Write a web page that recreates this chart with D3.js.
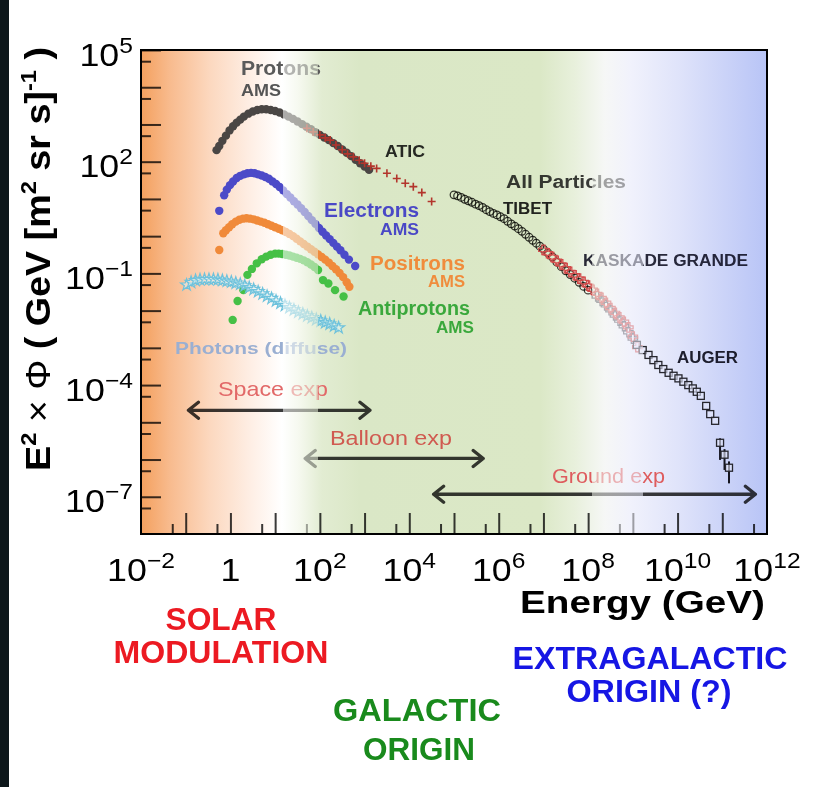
<!DOCTYPE html>
<html><head><meta charset="utf-8">
<script src="https://cdn.jsdelivr.net/npm/d3@7"></script>
<style>
html,body{margin:0;padding:0;background:#fff;}
svg{display:block;}
text{font-family:"Liberation Sans", Arial, Helvetica, sans-serif;}
</style></head><body>
<svg id="c" width="816" height="787"></svg>
<script>
// ---------- data (log10 of energy in GeV, log10 of E^2*flux) ----------
const protonsLogE = [-0.31,-0.25,-0.18,-0.10,-0.02,0.06,0.14,0.22,0.30,0.40,0.50,0.60,0.70,0.80,0.90,1.00,1.10,1.20,1.30,1.40,1.50,1.60,1.70,1.80,1.90,2.00,2.10,2.20,2.30,2.40,2.50,2.60,2.70,2.80,2.90,3.00,3.10];
const protonsLogFlux = [2.31,2.42,2.56,2.70,2.84,2.95,3.05,3.13,3.21,3.29,3.35,3.39,3.41,3.41,3.39,3.36,3.32,3.27,3.21,3.15,3.08,3.01,2.94,2.87,2.79,2.72,2.65,2.58,2.50,2.42,2.33,2.24,2.15,2.05,1.96,1.87,1.78];

const electronsLogE = [-0.25,-0.14,-0.08,-0.01,0.06,0.14,0.22,0.30,0.38,0.46,0.54,0.62,0.70,0.78,0.86,0.94,1.02,1.10,1.18,1.26,1.34,1.42,1.50,1.58,1.66,1.74,1.82,1.90,1.98,2.06,2.14,2.22,2.30,2.38,2.46,2.55,2.65,2.79];
const electronsLogFlux = [0.68,1.10,1.25,1.37,1.47,1.56,1.62,1.66,1.69,1.70,1.69,1.66,1.63,1.59,1.54,1.47,1.40,1.32,1.23,1.13,1.04,0.94,0.85,0.75,0.65,0.54,0.43,0.33,0.22,0.12,0.02,-0.08,-0.18,-0.28,-0.38,-0.50,-0.63,-0.80];

const positronsLogE = [-0.25,-0.16,-0.10,-0.03,0.04,0.12,0.20,0.28,0.36,0.44,0.52,0.60,0.68,0.76,0.84,0.92,1.00,1.08,1.16,1.24,1.32,1.40,1.48,1.56,1.64,1.72,1.80,1.88,1.96,2.04,2.12,2.20,2.28,2.36,2.44,2.52,2.60,2.66];
const positronsLogFlux = [-0.37,0.08,0.16,0.24,0.32,0.39,0.44,0.47,0.48,0.47,0.45,0.42,0.39,0.36,0.32,0.28,0.24,0.20,0.16,0.11,0.06,0.00,-0.07,-0.14,-0.21,-0.28,-0.35,-0.42,-0.49,-0.56,-0.63,-0.71,-0.80,-0.89,-0.99,-1.10,-1.24,-1.36];

const antiprotonsLogE = [0.05,0.16,0.29,0.38,0.48,0.59,0.70,0.80,0.90,1.00,1.08,1.16,1.24,1.32,1.40,1.48,1.56,1.64,1.72,1.80,1.88,1.96,2.07,2.19,2.34,2.53];
const antiprotonsLogFlux = [-2.25,-1.74,-1.45,-1.04,-0.88,-0.73,-0.62,-0.55,-0.50,-0.47,-0.47,-0.48,-0.50,-0.52,-0.55,-0.58,-0.61,-0.65,-0.70,-0.76,-0.83,-0.91,-1.18,-1.27,-1.45,-1.62];

const photonsLogE = [-0.98,-0.88,-0.78,-0.68,-0.58,-0.48,-0.38,-0.28,-0.18,-0.08,0.02,0.12,0.22,0.32,0.42,0.52,0.62,0.72,0.82,0.92,1.02,1.12,1.22,1.32,1.42,1.52,1.62,1.72,1.82,1.92,2.02,2.12,2.22,2.32,2.42];
const photonsLogFlux = [-1.31,-1.24,-1.19,-1.17,-1.16,-1.16,-1.16,-1.17,-1.19,-1.21,-1.23,-1.26,-1.29,-1.33,-1.38,-1.43,-1.49,-1.55,-1.61,-1.67,-1.74,-1.80,-1.86,-1.92,-1.98,-2.04,-2.09,-2.14,-2.19,-2.24,-2.28,-2.32,-2.36,-2.41,-2.46];

const aticLogE = [1.71,1.85,2.00,2.12,2.23,2.36,2.50,2.62,2.75,2.88,3.00,3.14,3.27,3.50,3.72,3.91,4.09,4.28,4.50];
const aticLogFlux = [2.90,2.80,2.72,2.64,2.58,2.45,2.32,2.21,2.13,2.04,1.96,1.88,1.82,1.69,1.55,1.42,1.33,1.17,0.93];

const tibetLogE = [5.00,5.08,5.16,5.24,5.32,5.40,5.48,5.56,5.64,5.72,5.80,5.88,5.96,6.04,6.12,6.20,6.28,6.36,6.44,6.52,6.60,6.68,6.76,6.84,6.92,7.00,7.10,7.20,7.30,7.40,7.50,7.60,7.70,7.80,7.90,8.00];
const tibetLogFlux = [1.11,1.08,1.04,0.99,0.95,0.91,0.86,0.82,0.77,0.71,0.66,0.61,0.57,0.52,0.47,0.40,0.33,0.27,0.20,0.13,0.05,-0.03,-0.11,-0.19,-0.27,-0.35,-0.45,-0.56,-0.70,-0.82,-0.93,-1.03,-1.13,-1.24,-1.35,-1.45];

const kaskadeLogE = [7.0,7.1,7.2,7.3,7.4,7.5,7.6,7.7,7.8,7.9,8.0,8.1,8.2,8.3,8.4,8.5,8.6,8.7,8.8,8.9,9.0,9.1];
const kaskadeLogFlux = [-0.37,-0.46,-0.56,-0.66,-0.76,-0.86,-0.96,-1.05,-1.14,-1.23,-1.33,-1.44,-1.55,-1.66,-1.79,-1.93,-2.06,-2.18,-2.30,-2.45,-2.70,-2.98];

const kaskadeGrandeLogE = [8.2,8.3,8.4,8.5,8.6,8.7,8.8,8.9,9.0];
const kaskadeGrandeLogFlux = [-1.62,-1.74,-1.86,-1.99,-2.13,-2.27,-2.42,-2.58,-2.75];

const augerLogE = [9.09,9.22,9.35,9.46,9.57,9.68,9.80,9.91,10.02,10.13,10.24,10.34,10.43,10.52,10.64,10.73,10.84,10.95,11.05,11.15];
const augerLogFlux = [-2.92,-3.06,-3.19,-3.33,-3.46,-3.57,-3.67,-3.75,-3.82,-3.91,-4.00,-4.09,-4.18,-4.29,-4.56,-4.78,-4.96,-5.55,-5.87,-6.22];
const augerBarLogE = [10.95,11.05,11.15];
const augerBarLogHigh = [-5.43,-5.72,-6.05];
const augerBarLogLow = [-6.01,-6.28,-6.64];

// experiment ranges: [Emin, Emax] GeV, flux level of the arrow
const spaceExpRange = [0.115, 1320], spaceExpLevel = 2.1e-5;
const balloonExpRange = [47, 4.5e5], balloonExpLevel = 1.07e-6;
const groundExpRange = [3.5e4, 5.5e11], groundExpLevel = 1.17e-7;

// ticks
const xTickValues = [1e-2, 1, 1e2, 1e4, 1e6, 1e8, 1e10, 1e12];
const xTickBase = ["10", "1", "10", "10", "10", "10", "10", "10"];
const xTickSup = ["\u22122", "", "2", "4", "6", "8", "10", "12"];
const yTickValues = [1e5, 1e2, 1e-1, 1e-4, 1e-7];
const yTickBase = ["10", "10", "10", "10", "10"];
const yTickSup = ["5", "2", "\u22121", "\u22124", "\u22127"];

// ---------- drawing ----------
const svg = d3.select("#c");
const xS = d3.scaleLog().domain([1e-2, 1e12]).range([141, 767]);
const yS = d3.scaleLog().domain([1e-8, 1e5]).range([534, 50]);
const P = {l: 141, r: 767, t: 50, b: 534};

const pts = (le, lf) => le.map((v, i) => ({e: Math.pow(10, v), f: Math.pow(10, lf[i])}));

// page
svg.append("rect").attr("width", 816).attr("height", 787).attr("fill", "#fff");
svg.append("rect").attr("width", 9).attr("height", 787).attr("fill", "#0d171b");

// background gradient
const defs = svg.append("defs");
const grad = defs.append("linearGradient").attr("id", "bg")
  .attr("gradientUnits", "userSpaceOnUse").attr("x1", P.l).attr("x2", P.r).attr("y1", 0).attr("y2", 0);
const stops = [[141,"#f4a05e"],[170,"#f8bb8e"],[210,"#fcd8bf"],[250,"#feeee4"],[282,"#ffffff"],[298,"#f6f9f0"],[322,"#e2ecd2"],[360,"#dae7c6"],[540,"#dbe8c6"],[575,"#e8f0dc"],[605,"#f6f7f6"],[630,"#f1f2fc"],[680,"#dfe3fa"],[767,"#b8c4f6"]];
stops.forEach(s => grad.append("stop").attr("offset", (s[0]-P.l)/(P.r-P.l)).attr("stop-color", s[1]));
svg.append("rect").attr("x", P.l).attr("y", P.t).attr("width", P.r-P.l).attr("height", P.b-P.t).attr("fill", "url(#bg)");

// arrows
function arrow(range, level) {
  const x1 = xS(range[0]), x2 = xS(range[1]), yy = yS(level), h = 10, w = 8;
  const d = `M${x1+h},${yy-w}L${x1},${yy}L${x1+h},${yy+w}M${x1},${yy}L${x2},${yy}M${x2-h},${yy-w}L${x2},${yy}L${x2-h},${yy+w}`;
  svg.append("path").attr("d", d).attr("fill", "none").attr("stroke", "#3a3a3a")
    .attr("stroke-width", 3.3).attr("stroke-linecap", "round").attr("stroke-linejoin", "round")
    .style("mix-blend-mode", "multiply");
}
arrow(spaceExpRange, spaceExpLevel);
arrow(balloonExpRange, balloonExpLevel);
arrow(groundExpRange, groundExpLevel);

function txt(px, py, s, o) {
  const t = svg.append("text").attr("x", px).attr("y", py).text(s)
    .attr("font-size", o.size).attr("fill", o.color)
    .attr("font-weight", o.weight || "bold")
    .attr("text-anchor", o.anchor || "start");
  if (o.len) t.attr("textLength", o.len).attr("lengthAdjust", "spacingAndGlyphs");
  if (o.blend) t.style("mix-blend-mode", "multiply");
  return t;
}
txt(218, 396, "Space exp", {size: 21, color: "#e26868", weight: "normal", len: 110});
txt(330, 445, "Balloon exp", {size: 21, color: "#d05a50", weight: "normal", len: 122});
txt(552, 483, "Ground exp", {size: 21, color: "#de5c5e", weight: "normal", len: 113});

// data marks
const dots = (data, color, r) => svg.append("g").selectAll("circle").data(data).join("circle")
  .attr("cx", d => xS(d.e)).attr("cy", d => yS(d.f)).attr("r", r).attr("fill", color);

dots(pts(protonsLogE, protonsLogFlux), "#4a4644", 4.2);
dots(pts(electronsLogE, electronsLogFlux), "#4c4ac8", 4.2);
dots(pts(positronsLogE, positronsLogFlux), "#f08a3a", 4.2);
dots(pts(antiprotonsLogE, antiprotonsLogFlux), "#46c046", 4.2);

const star = d3.symbol().type(d3.symbolStar).size(44);
svg.append("g").selectAll("path").data(pts(photonsLogE, photonsLogFlux)).join("path")
  .attr("d", star).attr("transform", d => `translate(${xS(d.e)},${yS(d.f)})`)
  .attr("fill", "#dff3f8").attr("fill-opacity", 0.5).attr("stroke", "#6ec2dc").attr("stroke-width", 1.2);

// ATIC "+"
svg.append("g").selectAll("path").data(pts(aticLogE, aticLogFlux)).join("path")
  .attr("d", d => { const cx = xS(d.e), cy = yS(d.f); return `M${cx-4},${cy}H${cx+4}M${cx},${cy-4}V${cy+4}`; })
  .attr("stroke", "#b3352c").attr("stroke-width", 1.6).attr("fill", "none");

// Tibet circles
svg.append("g").selectAll("circle").data(pts(tibetLogE, tibetLogFlux)).join("circle")
  .attr("cx", d => xS(d.e)).attr("cy", d => yS(d.f)).attr("r", 3.8)
  .attr("fill", "none").attr("stroke", "#3a3a36").attr("stroke-width", 1.25).style("mix-blend-mode", "multiply");

const cross = d3.symbol().type(d3.symbolCross).size(50);
svg.append("g").selectAll("path").data(pts(kaskadeGrandeLogE, kaskadeGrandeLogFlux)).join("path")
  .attr("d", cross).attr("transform", d => `translate(${xS(d.e)},${yS(d.f)})`)
  .attr("fill", "none").attr("stroke", "#555560").attr("stroke-width", 1.2);
svg.append("g").selectAll("path").data(pts(kaskadeLogE, kaskadeLogFlux)).join("path")
  .attr("d", cross).attr("transform", d => `translate(${xS(d.e)},${yS(d.f)})`)
  .attr("fill", "none").attr("stroke", "#d24a4a").attr("stroke-width", 1.2);

// Auger squares + error bars
const bars = augerBarLogE.map((v, i) => ({e: Math.pow(10, v), hi: Math.pow(10, augerBarLogHigh[i]), lo: Math.pow(10, augerBarLogLow[i])}));
svg.append("g").selectAll("line").data(bars).join("line")
  .attr("x1", d => xS(d.e)).attr("x2", d => xS(d.e)).attr("y1", d => yS(d.hi)).attr("y2", d => yS(d.lo))
  .attr("stroke", "#151520").attr("stroke-width", 2);
svg.append("g").selectAll("rect").data(pts(augerLogE, augerLogFlux)).join("rect")
  .attr("x", d => xS(d.e) - 3.5).attr("y", d => yS(d.f) - 3.5).attr("width", 7).attr("height", 7)
  .attr("fill", "#e4e8fb").attr("fill-opacity", 0.6).attr("stroke", "#26262e").attr("stroke-width", 1.3);

// data labels
txt(241, 75, "Protons", {size: 20, color: "#5a5a5a", len: 80});
txt(241, 96, "AMS", {size: 16, color: "#555", len: 40});
txt(385, 157, "ATIC", {size: 16, color: "#2c2c2c", len: 40, blend: true});
txt(324, 217, "Electrons", {size: 20, color: "#4a48c6", len: 95});
txt(380, 235, "AMS", {size: 16, color: "#4a48c6", len: 39});
txt(370, 270, "Positrons", {size: 20, color: "#f08c3c", len: 95});
txt(428, 287, "AMS", {size: 16, color: "#f08c3c", len: 37});
txt(358, 315, "Antiprotons", {size: 20, color: "#3aa83c", len: 112});
txt(436, 333, "AMS", {size: 16, color: "#3aa83c", len: 38});
txt(175, 354, "Photons (diffuse)", {size: 16, color: "#9aafd2", len: 172});
txt(506, 188, "All Particles", {size: 18, color: "#3c3c3c", len: 120, blend: true});
txt(503, 214, "TIBET", {size: 16, color: "#262626", len: 49, blend: true});
txt(583, 266, "KASKADE GRANDE", {size: 16, color: "#2c2c3c", len: 165, blend: true});
txt(677, 363, "AUGER", {size: 16, color: "#22222e", len: 61, blend: true});

// ticks via axes
function styleTicks(g) {
  g.select(".domain").remove();
  g.selectAll("line").attr("stroke", "#3a3a3a").attr("stroke-width", 2).style("mix-blend-mode", "multiply");
  g.selectAll("text").remove();
}
const xMajor = d3.range(-1, 12).map(n => Math.pow(10, n));
const xMinor = d3.range(-1, 12).map(n => 5 * Math.pow(10, n - 1)).concat([5e11]);
const yMajor = d3.range(-7, 6).map(n => Math.pow(10, n));
const yMinor = d3.range(-7, 6).map(n => 5 * Math.pow(10, n - 1));
svg.append("g").attr("transform", `translate(0,${P.b})`).call(d3.axisBottom(xS).tickValues(xMajor).tickSize(-21).tickFormat("")).call(styleTicks);
svg.append("g").attr("transform", `translate(0,${P.b})`).call(d3.axisBottom(xS).tickValues(xMinor).tickSize(-10).tickFormat("")).call(styleTicks);
svg.append("g").attr("transform", `translate(${P.l},0)`).call(d3.axisLeft(yS).tickValues(yMajor).tickSize(-20).tickFormat("")).call(styleTicks);
svg.append("g").attr("transform", `translate(${P.l},0)`).call(d3.axisLeft(yS).tickValues(yMinor).tickSize(-10).tickFormat("")).call(styleTicks);

// transition bands: the background drawn again, half transparent, over the marks
[[283, 318], [592, 643]].forEach(b => svg.append("rect").attr("x", b[0]).attr("y", P.t + 1).attr("width", b[1] - b[0]).attr("height", P.b - P.t - 2).attr("fill", "url(#bg)").attr("opacity", 0.55));

// frame
svg.append("rect").attr("x", P.l).attr("y", P.t).attr("width", P.r - P.l).attr("height", P.b - P.t)
  .attr("fill", "none").attr("stroke", "#000").attr("stroke-width", 2);

// tick labels
function tickLabel(px, py, base, sup, anchor) {
  const g = svg.append("g").attr("transform", `translate(${px},${py}) scale(1.12,1)`);
  const t = g.append("text").attr("text-anchor", anchor).attr("font-size", 32).attr("fill", "#000");
  t.append("tspan").text(base);
  if (sup) t.append("tspan").attr("font-size", 22).attr("dy", -13).text(sup);
}
xTickValues.forEach((v, i) => tickLabel(xS(v), 581, xTickBase[i], xTickSup[i], "middle"));
yTickValues.forEach((v, i) => tickLabel(133, yS(v) + 15.5, yTickBase[i], yTickSup[i], "end"));

// axis titles
txt(520, 613, "Energy (GeV)", {size: 31, color: "#000", len: 245});
const yt = svg.append("g").attr("transform", "translate(50,259) rotate(-90)")
  .append("text").attr("text-anchor", "middle").attr("font-size", 35).attr("font-weight", "bold")
  .attr("fill", "#000").attr("textLength", 424).attr("lengthAdjust", "spacingAndGlyphs");
yt.append("tspan").text("E");
yt.append("tspan").attr("font-size", 22).attr("dy", -14).text("2");
yt.append("tspan").attr("dy", 14).attr("font-weight", "normal").text(" \u00d7  \u03a6 ");
yt.append("tspan").text("( GeV [m");
yt.append("tspan").attr("font-size", 22).attr("dy", -14).text("2");
yt.append("tspan").attr("dy", 14).text(" sr s]");
yt.append("tspan").attr("font-size", 22).attr("dy", -14).text("-1");
yt.append("tspan").attr("dy", 14).text(" )");

// region labels
txt(221, 630, "SOLAR", {size: 31, color: "#ec1a22", len: 111, anchor: "middle"});
txt(221, 663, "MODULATION", {size: 31, color: "#ec1a22", len: 215, anchor: "middle"});
txt(650, 669, "EXTRAGALACTIC", {size: 31, color: "#1616e4", len: 275, anchor: "middle"});
txt(649, 702, "ORIGIN (?)", {size: 31, color: "#1616e4", len: 165, anchor: "middle"});
txt(417, 721, "GALACTIC", {size: 31, color: "#198a1c", len: 168, anchor: "middle"});
txt(419, 760, "ORIGIN", {size: 31, color: "#198a1c", len: 112, anchor: "middle"});
</script>
</body></html>
